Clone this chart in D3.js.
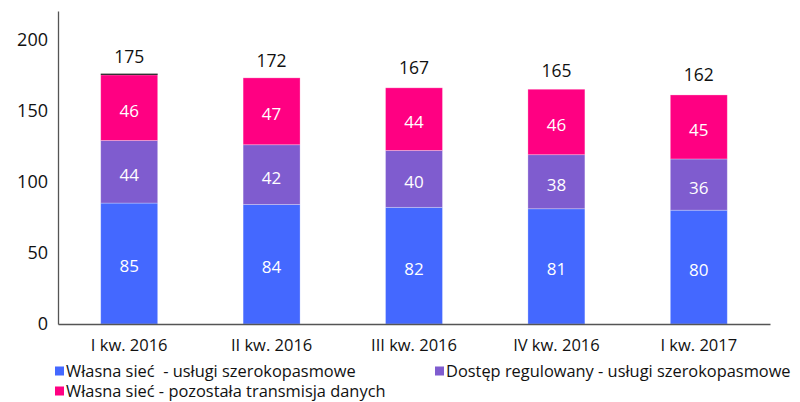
<!DOCTYPE html>
<html><head><meta charset="utf-8">
<script src="https://cdn.jsdelivr.net/npm/d3@7"></script>
<style>body{margin:0;background:#fff}svg{display:block}</style>
</head><body><svg width="800" height="402"></svg>
<script>
const categories = ["I kw. 2016","II kw. 2016","III kw. 2016","IV kw. 2016","I kw. 2017"];
const ownBroadband = [85,84,82,81,80];
const regulatedAccess = [44,42,40,38,36];
const ownOtherData = [46,47,44,46,45];
const otherTiny = [1,0,0,0,0];
const totals = [175,172,167,165,162];
const yTicks = [0,50,100,150,200];
const seriesNames = ["Własna sieć  - usługi szerokopasmowe","Dostęp regulowany - usługi szerokopasmowe","Własna sieć - pozostała transmisja danych",""];
const colors = ["#4468ff","#7f5ccf","#ff0082","#333333"];
const FONT = "Open Sans, Noto Sans, sans-serif";

const svg = d3.select("svg");
const x = d3.scaleBand().domain(categories).range([58,770]).paddingInner(0.6).paddingOuter(0.3);
const y = d3.scaleLinear().domain([0,220]).range([324,11]);

const rows = categories.map((c,i)=>({cat:c, s0:ownBroadband[i], s1:regulatedAccess[i], s2:ownOtherData[i], s3:otherTiny[i]}));
const stack = d3.stack().keys(["s0","s1","s2","s3"])(rows);

const g = svg.append("g");
stack.forEach((layer,li)=>{
  g.selectAll(null).data(layer).enter().append("rect")
    .attr("x",d=>x(d.data.cat)).attr("width",x.bandwidth())
    .attr("y",d=>y(d[1])).attr("height",d=>Math.max(0,y(d[0])-y(d[1])))
    .attr("fill",colors[li])
    .attr("stroke", li<3 ? "rgba(255,255,255,0.35)" : "none").attr("stroke-width",0.8);
  if (li<3) {
    g.selectAll(null).data(layer).enter().append("text")
      .attr("x",d=>x(d.data.cat)+x.bandwidth()/2)
      .attr("y",d=>(y(d[0])+y(d[1]))/2+3)
      .attr("dy","0.35em").attr("text-anchor","middle")
      .attr("fill","#fff").attr("font-size",17).attr("font-family",FONT)
      .text(d=>d[1]-d[0]);
  }
});

// totals
g.selectAll(null).data(categories).enter().append("text")
  .attr("x",d=>x(d)+x.bandwidth()/2)
  .attr("y",(d,i)=>y(totals[i])-12.5)
  .attr("text-anchor","middle").attr("font-size",17.5).attr("fill","#111").attr("font-family",FONT)
  .text((d,i)=>totals[i]);

// y axis
const ya = svg.append("g").attr("transform","translate(58,0)")
  .call(d3.axisLeft(y).tickValues(yTicks).tickSize(0).tickPadding(10));
ya.select(".domain").attr("stroke","#555").attr("stroke-width",1.3);
ya.selectAll("text").attr("font-size",18).attr("fill","#111").attr("font-family",FONT);

// x axis
const xa = svg.append("g").attr("transform","translate(0,324)")
  .call(d3.axisBottom(x).tickSize(0).tickPadding(15));
xa.select(".domain").attr("stroke","#555").attr("stroke-width",1.3);
xa.selectAll("text").attr("font-size",16.5).attr("fill","#111").attr("font-family",FONT);

// legend
const legendPos = [[55,371.5],[435,371.5],[55,391.5]];
[0,1,2].forEach(i=>{
  const [lx,ly] = legendPos[i];
  svg.append("rect").attr("x",lx).attr("y",ly-5).attr("width",9).attr("height",9).attr("fill",colors[i]);
  svg.append("text").attr("x",lx+11).attr("y",ly).attr("dy","0.35em").attr("font-family",FONT)
    .attr("xml:space","preserve")
    .attr("font-size",16.4).attr("fill","#111").text(seriesNames[i]);
});
</script></body></html>
